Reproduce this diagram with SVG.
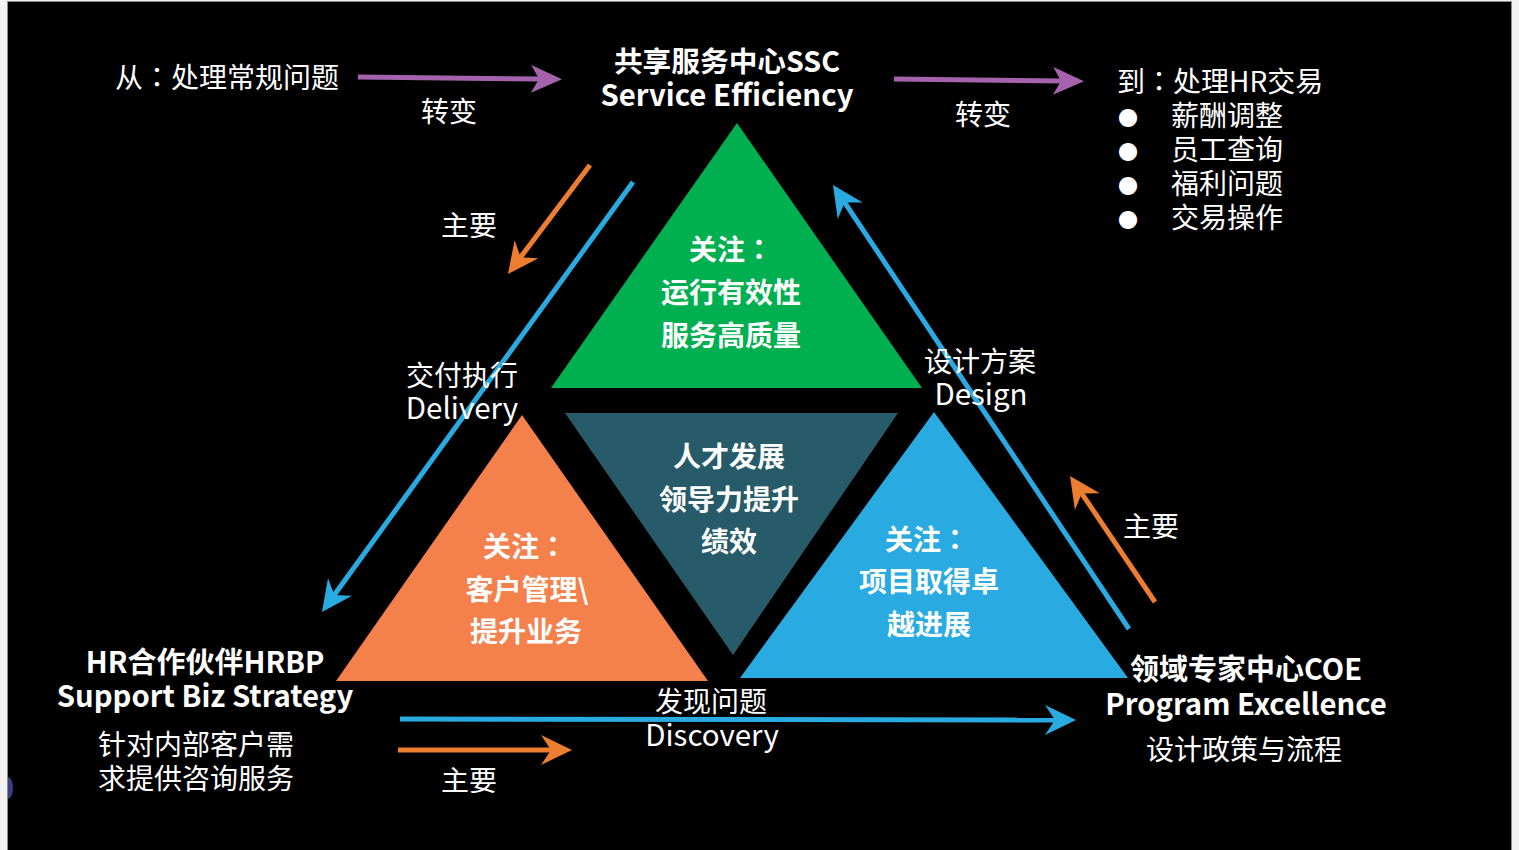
<svg xmlns="http://www.w3.org/2000/svg" width="1519" height="850" viewBox="0 0 1519 850">
<defs>
<style>
text{font-family:"Noto Sans CJK SC","Microsoft YaHei",sans-serif;fill:#fff}
.r{font-size:28px}
.b{font-size:28px;font-weight:bold}
.bl{font-size:29.3px;font-weight:bold}
.rl{font-size:29.5px}
.m{text-anchor:middle}
.c{font-family:"Noto Sans CJK TC","Microsoft YaHei",sans-serif}
.ln{fill:none;stroke-width:5}
.blue{stroke:#29ABE2}
.org{stroke:#ED7D31}
.pur{stroke:#A463AC}
</style>
<marker id="ab" viewBox="-31 -15 31 30" refX="-20" refY="0" markerWidth="31" markerHeight="30" markerUnits="userSpaceOnUse" orient="auto"><path d="M0,0 L-31,-15 L-21,0 L-31,15 Z" fill="#29ABE2"/></marker>
<marker id="ao" viewBox="-31 -15 31 30" refX="-20" refY="0" markerWidth="31" markerHeight="30" markerUnits="userSpaceOnUse" orient="auto"><path d="M0,0 L-31,-15 L-21,0 L-31,15 Z" fill="#ED7D31"/></marker>
<marker id="ap" viewBox="-31 -14 31 28" refX="-20" refY="0" markerWidth="31" markerHeight="28" markerUnits="userSpaceOnUse" orient="auto"><path d="M0,0 L-31,-14 L-23,0 L-31,14 Z" fill="#A463AC"/></marker>
</defs>
<rect x="0" y="0" width="1519" height="850" fill="#f2f2f2"/>
<rect x="7.5" y="1.5" width="1504" height="850" fill="#000" stroke="#8c8c8c" stroke-width="1"/>
<path d="M8,777 A5,11 0 0 1 8,799 Z" fill="#3d3d86"/>

<g id="tri-ssc">
<polygon points="737,123 922,388 551,388" fill="#00B050"/>
<text class="b m" x="731" y="260">关注<tspan class="c">：</tspan></text>
<text class="b m" x="731" y="303">运行有效性</text>
<text class="b m" x="731" y="346">服务高质量</text>
</g>
<g id="tri-hrbp">
<polygon points="522,415 708,681 336,681" fill="#F4804B"/>
<text class="b m" x="525" y="557">关注<tspan class="c">：</tspan></text>
<text class="b m" x="527" y="600">客户管理\</text>
<text class="b m" x="526" y="642">提升业务</text>
</g>
<g id="tri-center">
<polygon points="565,413 898,413 733,655" fill="#275B69"/>
<text class="b m" x="729" y="467">人才发展</text>
<text class="b m" x="729" y="510">领导力提升</text>
<text class="b m" x="729" y="552">绩效</text>
</g>
<g id="tri-coe">
<polygon points="934,412 1128,678 740,678" fill="#29ABE2"/>
<text class="b m" x="927" y="550">关注<tspan class="c">：</tspan></text>
<text class="b m" x="929" y="592">项目取得卓</text>
<text class="b m" x="929" y="635">越进展</text>
</g>

<g id="connectors">
<line class="ln pur" x1="358" y1="77" x2="542" y2="79" marker-end="url(#ap)"/>
<line class="ln pur" x1="894" y1="79" x2="1064" y2="81" marker-end="url(#ap)"/>
<line class="ln org" x1="590" y1="165" x2="520" y2="258" marker-end="url(#ao)"/>
<line class="ln blue" x1="633" y1="182" x2="333.7" y2="595.8" marker-end="url(#ab)"/>
<line class="ln blue" x1="1129" y1="629" x2="844.1" y2="201.6" marker-end="url(#ab)"/>
<line class="ln org" x1="1155" y1="602" x2="1081.2" y2="492.6" marker-end="url(#ao)"/>
<line class="ln blue" x1="400" y1="719" x2="1056" y2="720" marker-end="url(#ab)"/>
<line class="ln org" x1="398" y1="750" x2="552" y2="750" marker-end="url(#ao)"/>
</g>

<g id="ssc">
<text class="b m" x="727" y="72" style="font-size:28.7px">共享服务中心SSC</text>
<text class="bl m" x="727" y="106">Service Efficiency</text>
</g>
<g id="from">
<text class="r" x="115" y="88">从<tspan class="c">：</tspan>处理常规问题</text>
</g>
<g id="to">
<text class="r" x="1117" y="92">到<tspan class="c">：</tspan>处理HR交易</text>
<text class="r" x="1118" y="126" style="font-size:20px">●</text>
<text class="r" x="1118" y="160" style="font-size:20px">●</text>
<text class="r" x="1118" y="194" style="font-size:20px">●</text>
<text class="r" x="1118" y="228" style="font-size:20px">●</text>
<text class="r" x="1171" y="126">薪酬调整</text>
<text class="r" x="1171" y="160">员工查询</text>
<text class="r" x="1171" y="194">福利问题</text>
<text class="r" x="1171" y="228">交易操作</text>
</g>
<g id="hrbp">
<text class="b m" x="205" y="673" style="font-size:29px">HR合作伙伴HRBP</text>
<text class="bl m" x="205" y="707">Support Biz Strategy</text>
<text class="r m" x="196" y="755">针对内部客户需</text>
<text class="r m" x="196" y="789">求提供咨询服务</text>
</g>
<g id="coe">
<text class="b m" x="1246" y="680" style="font-size:29px">领域专家中心COE</text>
<text class="bl m" x="1246" y="715">Program Excellence</text>
<text class="r m" x="1244" y="760">设计政策与流程</text>
</g>
<g id="labels">
<text class="r m" x="449" y="122">转变</text>
<text class="r m" x="983" y="125">转变</text>
<text class="r m" x="469" y="236">主要</text>
<text class="r m" x="462" y="386">交付执行</text>
<text class="rl m" x="462" y="419">Delivery</text>
<text class="r m" x="980" y="372">设计方案</text>
<text class="rl m" x="981" y="405">Design</text>
<text class="r m" x="1151" y="537">主要</text>
<text class="r m" x="711" y="712">发现问题</text>
<text class="rl m" x="712" y="746">Discovery</text>
<text class="r m" x="469" y="791">主要</text>
</g>
</svg>
